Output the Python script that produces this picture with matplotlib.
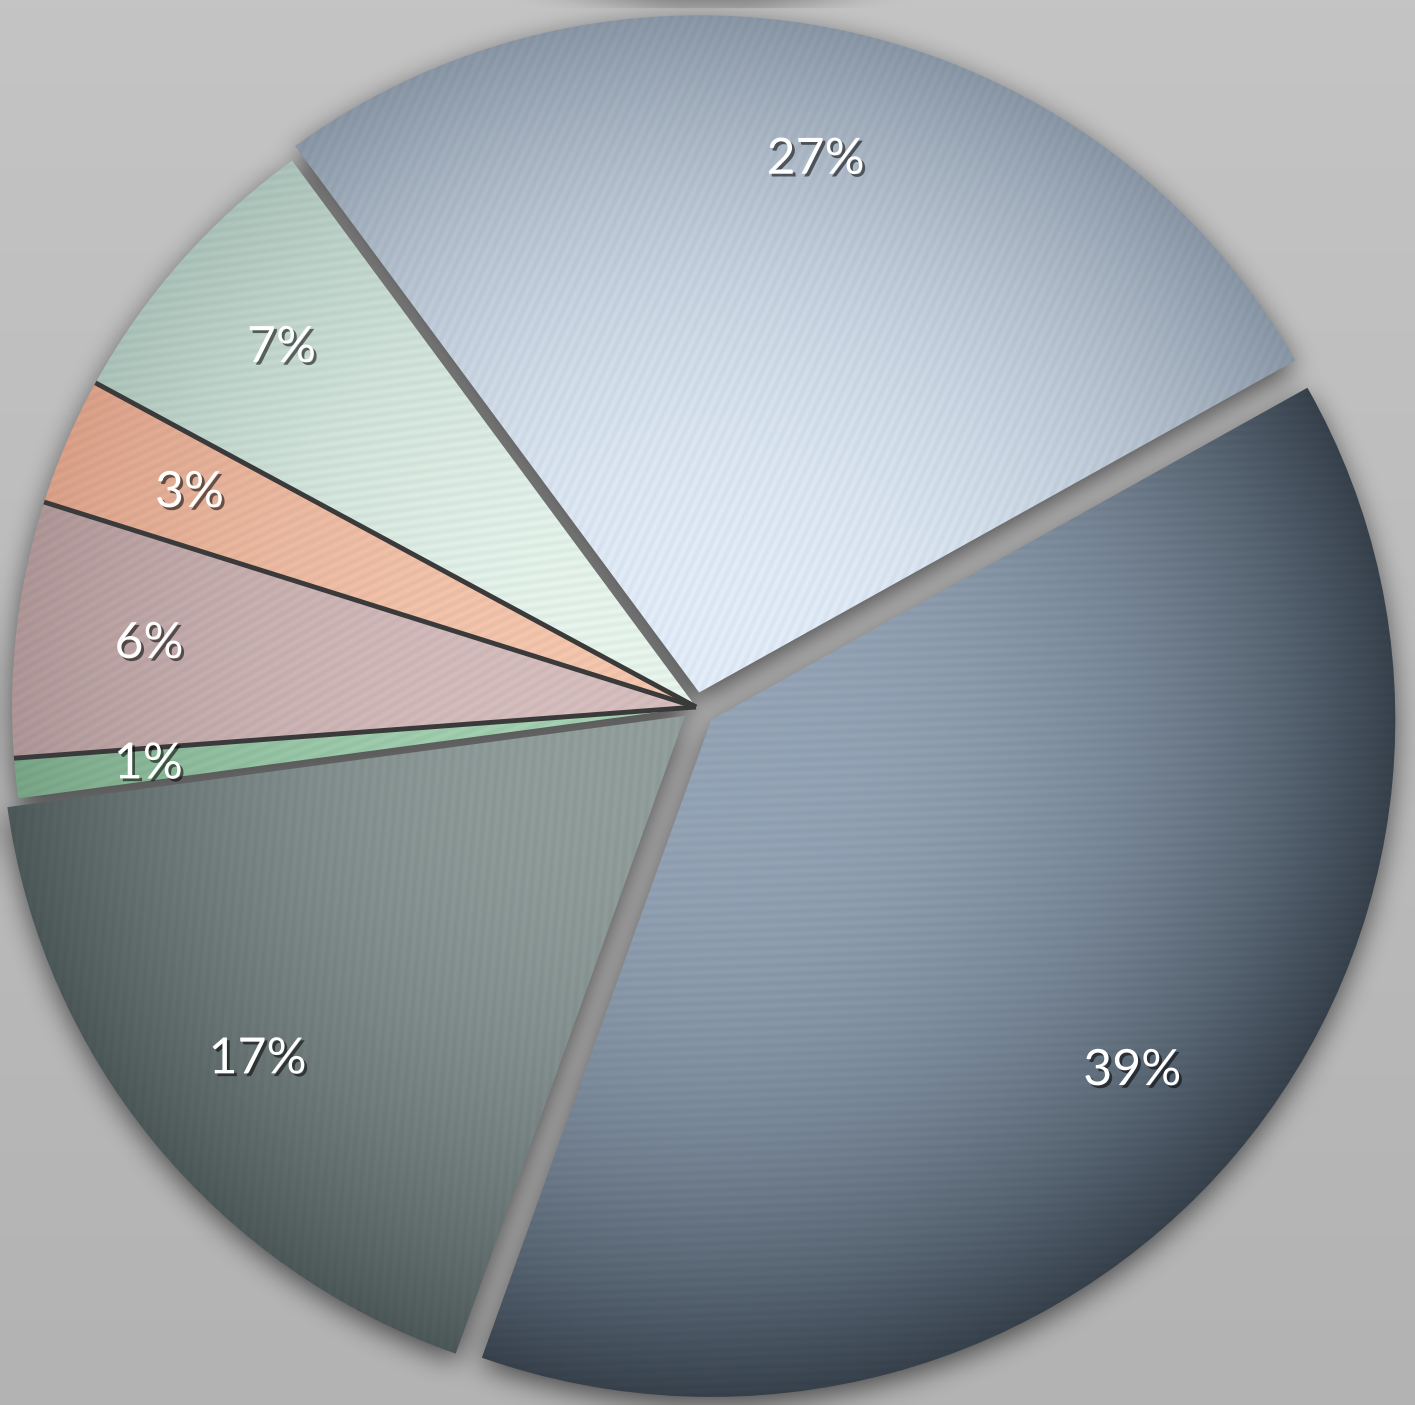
import numpy as np
import matplotlib
matplotlib.use('Agg')
import matplotlib.pyplot as plt
import matplotlib.patheffects as pe
from matplotlib.colors import to_rgb

# ---- data ----
values = [26.9, 38.6, 17.4, 0.95, 6.1, 3.05, 7.0]
explode = [15, 20, 14, 0, 0, 0, 0]
inner_colors = ['#dfeaf6', '#93a3b5', '#909d9b', '#a2cfb0', '#d4bcbc', '#f2c4ac', '#e4f2ea']
outer_colors = ['#8895a4', '#36414c', '#4c5758', '#76a485', '#ad9596', '#d89f87', '#a9c1b8']
stripe_angles = [65, 2, 85, 20, 30, 25, 8]

W, H = 1415, 1405
YS = 0.99                     # vertical pixels per data unit
HD = H / YS
fig = plt.figure(figsize=(W / 100, H / 100), dpi=100)
ax = fig.add_axes([0, 0, 1, 1])

# background gradient
gy = np.linspace(0, 1, 200)[:, None]
bg = np.ones((200, 2, 3))
top = np.array(to_rgb('#c4c4c4'))
bot = np.array(to_rgb('#b3b3b3'))
bg[:] = (bot * (1 - gy[..., None]) + top * gy[..., None])
ax.imshow(bg, extent=(0, W, 0, HD), origin='lower', aspect='auto', zorder=0)

cx, cy, R = 696, (H - 707) / YS, 684
wedges, texts, autotexts = ax.pie(
    values, explode=explode, startangle=126.2, counterclock=False,
    center=(cx, cy), radius=R, frame=True,
    autopct=lambda p: f'{p:.0f}%', pctdistance=0.805,
    textprops=dict(color='white', fontsize=36, family=['Lato', 'DejaVu Sans']),
    wedgeprops=dict(linewidth=0, facecolor='none'))
ax.set_aspect('auto')

# pixel grid (half resolution) in data coordinates
nx, ny = W // 2, H // 2
xs = np.linspace(0, W, nx)
ys = np.linspace(0, HD, ny)
X, Y = np.meshgrid(xs, ys)


def wedge_mask(w, X, Y):
    x0, y0 = w.center
    dx, dy = X - x0, Y - y0
    r = np.hypot(dx, dy)
    ang = np.degrees(np.arctan2(dy, dx)) % 360
    t1 = w.theta1 % 360
    span = (w.theta2 - w.theta1) % 360
    return (r <= w.r) & (((ang - t1) % 360) <= span)


def box_blur(a, k, passes=3):
    for _ in range(passes):
        for axis in (0, 1):
            pad = [(0, 0), (0, 0)]
            pad[axis] = (k, k)
            p = np.pad(a, pad, mode='edge')
            c = np.cumsum(p, axis=axis)
            c = np.insert(c, 0, 0, axis=axis)
            n = a.shape[axis]
            if axis == 0:
                a = (c[2 * k + 1:2 * k + 1 + n, :] - c[:n, :]) / (2 * k + 1)
            else:
                a = (c[:, 2 * k + 1:2 * k + 1 + n] - c[:, :n]) / (2 * k + 1)
    return a

# soft shadow under the pie
mask = np.zeros_like(X, dtype=float)
for w in wedges:
    mask = np.maximum(mask, wedge_mask(w, X, Y).astype(float))
shadow = box_blur(mask, 6)
shadow = np.roll(shadow, -4, axis=0)
sh = np.zeros(X.shape + (4,))
sh[..., 3] = np.clip(shadow, 0, 1) * 0.6
ax.imshow(sh, extent=(0, W, 0, HD), origin='lower', aspect='auto', zorder=1)

# shaded fills clipped to each wedge
for w, ci, co, sa in zip(wedges, inner_colors, outer_colors, stripe_angles):
    x0, y0 = w.center
    t = np.clip(np.hypot(X - x0, Y - y0) / w.r, 0, 1)
    s = t ** 2.4
    ci_, co_ = np.array(to_rgb(ci)), np.array(to_rgb(co))
    img = ci_ * (1 - s[..., None]) + co_ * s[..., None]
    th = np.radians(sa)
    stripes = np.sin(2 * np.pi * (X * np.sin(th) - Y * np.cos(th)) / 9.0)
    img = np.clip(img * (1 + 0.022 * stripes[..., None]), 0, 1)
    im = ax.imshow(img, extent=(0, W, 0, HD), origin='lower', aspect='auto', zorder=2)
    im.set_clip_path(w)
    w.set_zorder(3)

# dark separators between the small (non-exploded) slices
small = [w for w, e in zip(wedges, explode) if e == 0]
for a, b in zip(small[:-1], small[1:]):
    ang = np.radians(a.theta1 if abs(((a.theta1 - b.theta2) + 180) % 360 - 180) < 1e-6 else a.theta2)
    x0, y0 = a.center
    ax.plot([x0, x0 + a.r * np.cos(ang)], [y0, y0 + a.r * np.sin(ang)],
            color='#3a3a3a', lw=3.5, solid_capstyle='butt', zorder=4)

for t in autotexts:
    t.set_zorder(5)
    t.set_path_effects([pe.withSimplePatchShadow(offset=(2, -2), shadow_rgbFace='black', alpha=0.55)])

ax.set_xlim(0, W)
ax.set_ylim(0, HD)
ax.axis('off')
fig.savefig('out.png', dpi=100)
